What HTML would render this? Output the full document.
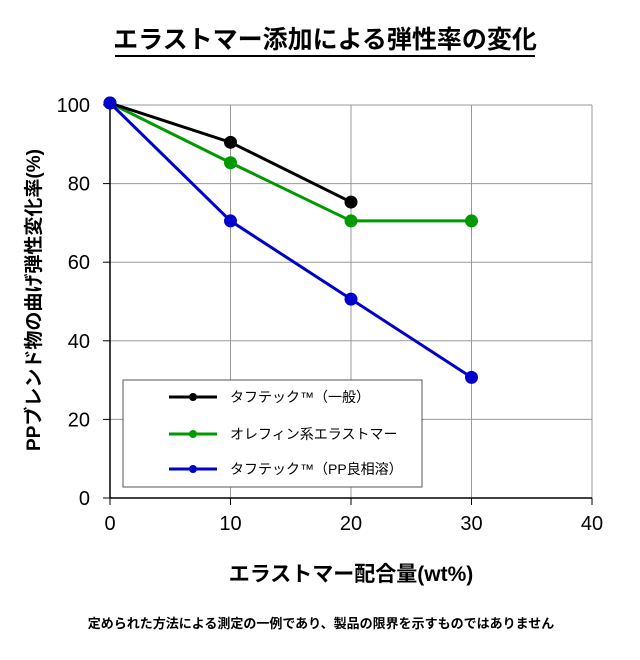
<!DOCTYPE html>
<html><head><meta charset="utf-8"><style>
body{margin:0;background:#fff;}
svg{display:block;font-family:"Liberation Sans","Noto Sans CJK JP",sans-serif;}
</style></head><body>
<svg id="chart" width="640" height="660" viewBox="0 0 640 660">
<text x="325" y="48" text-anchor="middle" font-size="25" font-weight="bold">エラストマー添加による弾性率の変化</text>
<line x1="115" y1="56" x2="535" y2="56" stroke="#000" stroke-width="2"/>
<g id="grid"></g>
<g id="axes"></g>
<g id="series"></g>
<text x="351" y="581" text-anchor="middle" font-size="21" font-weight="bold">エラストマー配合量(wt%)</text>
<text transform="translate(40,300) rotate(-90)" text-anchor="middle" font-size="19" font-weight="bold">PPブレンド物の曲げ弾性変化率(%)</text>
<text x="321" y="628" text-anchor="middle" font-size="13" font-weight="bold">定められた方法による測定の一例であり、製品の限界を示すものではありません</text>
<g>
<rect x="123" y="380" width="299" height="107" fill="#fff" stroke="#555" stroke-width="1"/>
<g id="legend"></g>
</g>
</svg>
<script>
const xTicks=[0,10,20,30,40];
const yTicks=[0,20,40,60,80,100];
const xValues=[0,10,20,30];
const seriesNames=["タフテック™（一般）","オレフィン系エラストマー","タフテック™（PP良相溶）"];
const blackValues=[100.5,90.5,75.3];
const greenValues=[100.5,85.3,70.5,70.5];
const blueValues=[100.5,70.5,50.6,30.7];
const colors=["#000000","#009900","#0000cc"];
const NS="http://www.w3.org/2000/svg";
const X0=110,X1=592,Y0=498,Y1=105;
const xs=v=>X0+(v-0)/(40-0)*(X1-X0);
const ys=v=>Y0-(v-0)/(100-0)*(Y0-Y1);
function mk(tag,attrs,parent){const e=document.createElementNS(NS,tag);for(const k in attrs)e.setAttribute(k,attrs[k]);parent.appendChild(e);return e;}
const grid=document.getElementById('grid'),axes=document.getElementById('axes'),ser=document.getElementById('series'),leg=document.getElementById('legend');
xTicks.forEach(t=>{
 if(t>0){const l=mk('line',{x1:xs(t),x2:xs(t),y1:Y1,y2:Y0,stroke:'#999','stroke-width':1},grid);
 
 }
 const tk=mk('line',{x1:xs(t),x2:xs(t),y1:Y0,y2:Y0+7,stroke:'#000'},axes);
 
 
 const tx=mk('text',{x:xs(t),y:Y0+32,'text-anchor':'middle','font-size':20},axes);tx.textContent=t;
 
 
});
yTicks.forEach(t=>{
 if(t>0){const l=mk('line',{x1:X0,x2:X1,y1:ys(t),y2:ys(t),stroke:'#999','stroke-width':1},grid);
 
 }
 const tk=mk('line',{x1:X0-7,x2:X0,y1:ys(t),y2:ys(t),stroke:'#000'},axes);
 
 
 const tx=mk('text',{x:X0-20,y:ys(t)+7,'text-anchor':'end','font-size':20},axes);tx.textContent=t;
 
 
});
const ax1=mk('line',{x1:X0,x2:X0,y1:Y1,y2:Y0,stroke:'#000','stroke-width':1.5},axes);


const ax2=mk('line',{x1:X0,x2:X1,y1:Y0,y2:Y0,stroke:'#000','stroke-width':1.5},axes);


const allSeries=[greenValues,blackValues,blueValues];
const colIdx=[1,0,2];
allSeries.forEach((vals,i)=>{
 const c=colors[colIdx[i]];
 const pts=vals.map((v,j)=>xs(xValues[j])+','+ys(v)).join(' ');
 const pl=mk('polyline',{points:pts,fill:'none',stroke:c,'stroke-width':3},ser);
 
 
 vals.forEach((v,j)=>{const p=mk('circle',{cx:xs(xValues[j]),cy:ys(v),r:6.5,fill:c},ser);
 
 });
});
const legY=[397,434,469];
seriesNames.forEach((n,i)=>{
 const l=mk('line',{x1:169,x2:217,y1:legY[i],y2:legY[i],stroke:colors[i],'stroke-width':3},leg);
 
 
 const c=mk('circle',{cx:193,cy:legY[i],r:4,fill:colors[i]},leg);
 
 
 const t=mk('text',{x:230,y:legY[i]+5,'font-size':14},leg);t.textContent=n;
 
 
});
</script>
</body></html>
